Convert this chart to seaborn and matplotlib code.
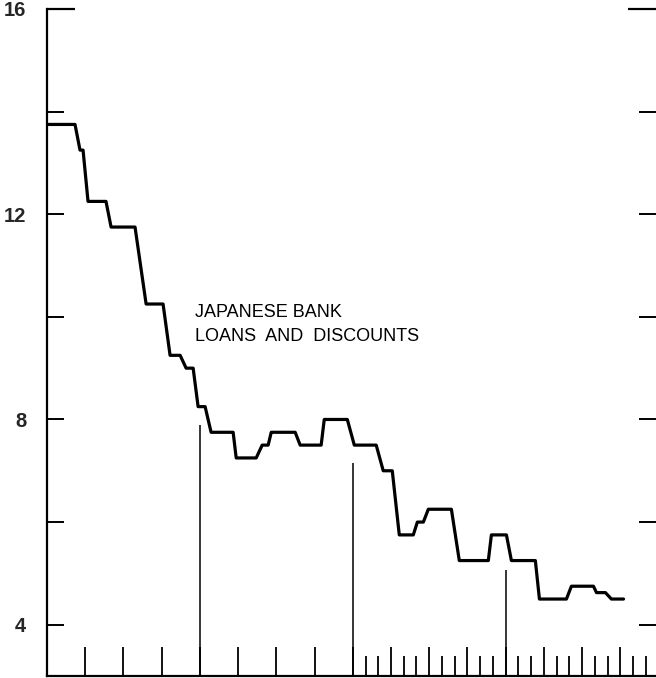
import matplotlib
matplotlib.use("Agg")
import matplotlib.pyplot as plt
import seaborn as sns
import pandas as pd

# --- data -------------------------------------------------------------
# rate levels (percent) of the step series and the span (in months from the
# left edge of the axis) over which each level holds
levels = [13.75, 13.25, 12.25, 11.75, 10.25, 9.25, 9.0, 8.25, 7.75, 7.25,
          7.5, 7.75, 7.5, 8.0, 7.5, 7.0, 5.75, 6.0, 6.25, 5.25,
          5.75, 5.25, 4.5, 4.75, 4.625, 4.5]
level_start = [0.0, 2.59, 3.22, 5.03, 7.78, 9.66, 10.92, 11.86, 12.88, 14.85,
               16.89, 17.60, 19.87, 21.76, 24.12, 26.39, 27.65, 29.07, 29.93, 32.36,
               34.88, 36.45, 38.65, 41.16, 43.13, 44.30]
level_end = [2.20, 2.83, 4.63, 6.91, 9.11, 10.45, 11.47, 12.41, 14.61, 16.42,
             17.36, 19.48, 21.52, 23.57, 25.84, 27.10, 28.75, 29.54, 31.74, 34.64,
             36.06, 38.33, 40.77, 42.89, 43.83, 45.25]

# period divider lines (month position and height of the line)
divider_x = [12, 24, 36]
divider_top = [7.9, 7.15, 5.07]

y_ticks_labeled = [4, 8, 12, 16]
y_ticks_minor = [6, 10, 14]
x_major = [3, 6, 9, 12, 15, 18, 21, 24, 27, 30, 33, 36, 39, 42, 45]
x_minor = [25, 26, 28, 29, 31, 32, 34, 35, 37, 38, 40, 41, 43, 44, 46, 47]

label_text = "JAPANESE BANK\nLOANS  AND  DISCOUNTS"

# --- build point table -------------------------------------------------
pts = []
for lv, s, e in zip(levels, level_start, level_end):
    pts.append((s, lv))
    pts.append((e, lv))
df = pd.DataFrame(pts, columns=["month", "rate"])

sns.set_theme(style="white")
plt.rcParams["font.family"] = ["Liberation Sans", "DejaVu Sans"]

fig = plt.figure(figsize=(6.56, 6.78), dpi=100)
ax = fig.add_axes([47 / 656, 2 / 678, 609 / 656, 667 / 678])

sns.lineplot(data=df, x="month", y="rate", sort=False, estimator=None,
             color="black", linewidth=2.3, ax=ax)

ax.vlines(divider_x, 3, divider_top, color="black", linewidth=1.1)

ax.set_xlim(0, 47.8)
ax.set_ylim(3, 16)

for side in ["top", "right"]:
    ax.spines[side].set_visible(False)
for side in ["left", "bottom"]:
    ax.spines[side].set_visible(True)
    ax.spines[side].set_color("black")
    ax.spines[side].set_linewidth(1.6)

ax.set_yticks(y_ticks_labeled)
ax.set_yticklabels([str(v) for v in y_ticks_labeled], fontsize=14.5, fontweight="bold")
ax.set_yticks(y_ticks_minor, minor=True)
ax.tick_params(axis="y", which="both", direction="in", left=True, right=True,
               length=12.5, width=1.4, color="black", pad=15)

ax.set_xticks(x_major)
ax.set_xticklabels([])
ax.set_xticks(x_minor, minor=True)
ax.tick_params(axis="x", which="major", direction="in", bottom=True,
               length=21, width=1.3, color="black")
ax.tick_params(axis="x", which="minor", direction="in", bottom=True,
               length=14.5, width=1.3, color="black")

# long corner ticks at the top of the scale
ax.plot([0, 28 / 609], [1, 1], transform=ax.transAxes, color="black",
        linewidth=1.6, clip_on=False, solid_capstyle="butt")
ax.plot([1 - 28 / 609, 1], [1, 1], transform=ax.transAxes, color="black",
        linewidth=1.6, clip_on=False, solid_capstyle="butt")

ax.text(11.6, 10.25, label_text, fontsize=13, ha="left", va="top",
        linespacing=1.5, color="black")

ax.set_xlabel("")
ax.set_ylabel("")
ax.grid(False)

fig.savefig("out.png", dpi=100)
